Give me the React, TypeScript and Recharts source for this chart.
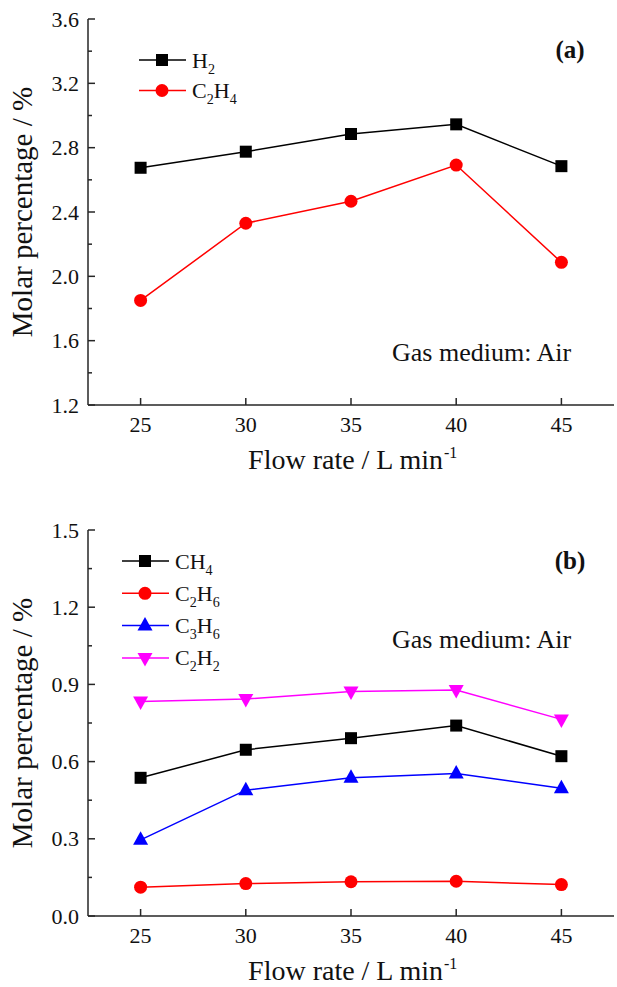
import React from 'react';
import { LineChart, Line, XAxis, YAxis, Legend, Customized } from 'recharts';

// ---------- data ----------
const flowRates = [25, 30, 35, 40, 45];

const h2Values = [2.675, 2.775, 2.885, 2.945, 2.685];
const c2h4Values = [1.85, 2.33, 2.467, 2.692, 2.087];

const ch4Values = [0.537, 0.646, 0.691, 0.74, 0.621];
const c2h6Values = [0.112, 0.126, 0.133, 0.135, 0.122];
const c3h6Values = [0.296, 0.489, 0.537, 0.554, 0.496];
const c2h2Values = [0.834, 0.843, 0.872, 0.878, 0.764];

const xTicks = [25, 30, 35, 40, 45];
const yTicksA = [1.2, 1.4, 1.6, 1.8, 2.0, 2.2, 2.4, 2.6, 2.8, 3.0, 3.2, 3.4, 3.6];
const yMajorA = [1.2, 1.6, 2.0, 2.4, 2.8, 3.2, 3.6];
const yTicksB = [0, 0.15, 0.3, 0.45, 0.6, 0.75, 0.9, 1.05, 1.2, 1.35, 1.5];
const yMajorB = [0, 0.3, 0.6, 0.9, 1.2, 1.5];

const seriesA = [
  { key: 'H2', name: 'H2', color: '#000000', shape: 'square', values: h2Values },
  { key: 'C2H4', name: 'C2H4', color: '#ff0000', shape: 'circle', values: c2h4Values },
];
const seriesB = [
  { key: 'CH4', name: 'CH4', color: '#000000', shape: 'square', values: ch4Values },
  { key: 'C2H6', name: 'C2H6', color: '#ff0000', shape: 'circle', values: c2h6Values },
  { key: 'C3H6', name: 'C3H6', color: '#0000ff', shape: 'up', values: c3h6Values },
  { key: 'C2H2', name: 'C2H2', color: '#ff00ff', shape: 'down', values: c2h2Values },
];

// ---------- styles ----------
const FONT = "'Liberation Serif', 'Times New Roman', serif";
const AXIS = '#262626';
const W = 617;
const H = 490;
const XAXIS_H = 85;
const ts = (size: number, bold = false): React.CSSProperties => ({
  fontFamily: FONT,
  fontSize: size,
  fontWeight: bold ? 'bold' : 'normal',
});

function buildData(series: any[]) {
  return flowRates.map((f, i) => {
    const row: any = { flow: f };
    series.forEach((s) => (row[s.key] = s.values[i]));
    return row;
  });
}

function Marker({ shape, cx, cy, color }: any) {
  if (shape === 'square') return <rect x={cx - 6} y={cy - 6} width={12} height={12} fill={color} />;
  if (shape === 'circle') return <circle cx={cx} cy={cy} r={6.5} fill={color} />;
  if (shape === 'up')
    return <polygon points={`${cx},${cy - 8.5} ${cx - 7.5},${cy + 5} ${cx + 7.5},${cy + 5}`} fill={color} />;
  return <polygon points={`${cx},${cy + 8.5} ${cx - 7.5},${cy - 5} ${cx + 7.5},${cy - 5}`} fill={color} />;
}

function Formula({ x, y, text, size }: any) {
  const parts: any[] = [];
  let sub = false;
  const tokens = text.match(/(\d+|\D+)/g) || [];
  tokens.forEach((t: string, i: number) => {
    const isDigit = /\d/.test(t);
    let dy = 0;
    if (isDigit && !sub) dy = 6;
    if (!isDigit && sub) dy = -6;
    sub = isDigit;
    parts.push(
      <tspan key={i} dy={dy} style={{ fontSize: isDigit ? size * 0.64 : size }}>
        {t}
      </tspan>
    );
  });
  return (
    <text x={x} y={y} style={ts(size)} fill="#111">
      {parts}
    </text>
  );
}

function makeLegend(series: any[], rowGap: number) {
  return () => (
    <svg width={200} height={rowGap * series.length + 10} style={{ overflow: 'visible', display: 'block' }}>
      {series.map((s: any, i: number) => {
        const cy = 16 + i * rowGap;
        return (
          <g key={s.key}>
            <line x1={0} y1={cy} x2={47} y2={cy} stroke={s.color} strokeWidth={1.5} />
            <Marker shape={s.shape} cx={23} cy={cy} color={s.color} />
            <Formula x={53} y={cy + 7.5} text={s.name} size={22} />
          </g>
        );
      })}
    </svg>
  );
}

function makeLeftTick(majors: number[]) {
  return (props: any) => {
    const { x, y, payload } = props;
    const major = majors.includes(payload.value);
    return (
      <g>
        <line x1={x} y1={y} x2={x + (major ? 7 : 4)} y2={y} stroke={AXIS} strokeWidth={1.5} />
        {major && (
          <text x={x - 9} y={y + 7.5} textAnchor="end" style={ts(22)} fill="#111">
            {Number(payload.value).toFixed(1)}
          </text>
        )}
      </g>
    );
  };
}

function makeRightTick(majors: number[]) {
  return (props: any) => {
    const { x, y, payload } = props;
    const major = majors.includes(payload.value);
    return <line x1={x} y1={y} x2={x - (major ? 7 : 4)} y2={y} stroke={AXIS} strokeWidth={1.5} />;
  };
}

const BottomTick = (props: any) => {
  const { x, y, payload } = props;
  return (
    <g>
      <line x1={x} y1={y} x2={x} y2={y - 7} stroke={AXIS} strokeWidth={1.5} />
      <text x={x} y={y + 27} textAnchor="middle" style={ts(22)} fill="#111">
        {payload.value}
      </text>
    </g>
  );
};

const TopTick = (props: any) => {
  const { x, y } = props;
  return <line x1={x} y1={y} x2={x} y2={y + 7} stroke={AXIS} strokeWidth={1.5} />;
};

const XTitle = (props: any) => {
  const vb = props.viewBox || {};
  const cx = vb.x + vb.width / 2;
  const by = vb.y + 64;
  return (
    <g>
      <text x={cx + 92} y={by} textAnchor="end" style={ts(28)} fill="#111">
        Flow rate / L min
      </text>
      <text x={cx + 93} y={by - 11} textAnchor="start" style={ts(16)} fill="#111">
        -1
      </text>
    </g>
  );
};

const YTitle = (props: any) => {
  const vb = props.viewBox || {};
  const cy = vb.y + vb.height / 2;
  const bx = 32;
  return (
    <text x={bx} y={cy} transform={`rotate(-90 ${bx} ${cy})`} textAnchor="middle" style={ts(29)} fill="#111">
      Molar percentage / %
    </text>
  );
};

function Panel({ series, yDomain, yTicks, yMajor, panelLabel, noteY, legendLeft, legendTop, rowGap }: any) {
  const data = buildData(series);
  return (
    <LineChart width={W} height={H} data={data} margin={{ top: 19, right: 3, bottom: 0, left: 0 }}>
      <XAxis
        dataKey="flow"
        type="number"
        domain={[22.5, 47.5]}
        ticks={xTicks}
        interval={0}
        height={XAXIS_H}
        tickSize={0}
        tickMargin={0}
        tickLine={false}
        tick={BottomTick}
        axisLine={{ stroke: AXIS, strokeWidth: 1.5 }}
        label={<XTitle />}
        allowDataOverflow
      />
      <XAxis
        xAxisId="top"
        orientation="top"
        dataKey="flow"
        type="number"
        domain={[22.5, 47.5]}
        ticks={xTicks}
        interval={0}
        height={0}
        tickSize={0}
        tickMargin={0}
        tickLine={false}
        tick={TopTick}
        axisLine={{ stroke: AXIS, strokeWidth: 1.5 }}
        allowDataOverflow
      />
      <YAxis
        type="number"
        domain={yDomain}
        ticks={yTicks}
        interval={0}
        width={88}
        tickSize={0}
        tickMargin={0}
        tickLine={false}
        tick={makeLeftTick(yMajor)}
        axisLine={{ stroke: AXIS, strokeWidth: 1.5 }}
        label={<YTitle />}
        allowDataOverflow
      />
      <YAxis
        yAxisId="right"
        orientation="right"
        type="number"
        domain={yDomain}
        ticks={yTicks}
        interval={0}
        width={0}
        tickSize={0}
        tickMargin={0}
        tickLine={false}
        tick={makeRightTick(yMajor)}
        axisLine={{ stroke: AXIS, strokeWidth: 1.5 }}
        allowDataOverflow
      />
      <Legend
        layout="horizontal"
        verticalAlign="middle"
        align="center"
        content={makeLegend(series, rowGap)}
        wrapperStyle={{ left: legendLeft, top: legendTop, width: 200, height: rowGap * series.length + 10 }}
      />
      {series.map((s: any) => (
        <Line
          key={s.key}
          dataKey={s.key}
          name={s.name}
          stroke={s.color}
          strokeWidth={1.5}
          isAnimationActive={false}
          dot={(p: any) => <Marker key={`${s.key}-${p.index}`} shape={s.shape} cx={p.cx} cy={p.cy} color={s.color} />}
          activeDot={false}
          legendType="line"
        />
      ))}
      <Customized
        component={() => (
          <g>
            <text x={570} y={58} textAnchor="middle" style={ts(25, true)} fill="#111">
              {panelLabel}
            </text>
            <text x={392} y={noteY} style={ts(26)} fill="#111">
              Gas medium: Air
            </text>
          </g>
        )}
      />
    </LineChart>
  );
}

export default function App() {
  return (
    <div
      style={{ position: 'absolute', left: 0, top: 0, width: W, height: 987, background: '#fff', overflow: 'hidden' }}
    >
      <div style={{ position: 'absolute', left: 0, top: 0 }}>
        <Panel
          series={seriesA}
          yDomain={[1.2, 3.6]}
          yTicks={yTicksA}
          yMajor={yMajorA}
          panelLabel="(a)"
          noteY={361}
          legendLeft={139}
          legendTop={44}
          rowGap={30.5}
        />
      </div>
      <div style={{ position: 'absolute', left: 0, top: 511 }}>
        <Panel
          series={seriesB}
          yDomain={[0, 1.5]}
          yTicks={yTicksB}
          yMajor={yMajorB}
          panelLabel="(b)"
          noteY={137}
          legendLeft={122}
          legendTop={34}
          rowGap={32.3}
        />
      </div>
    </div>
  );
}
